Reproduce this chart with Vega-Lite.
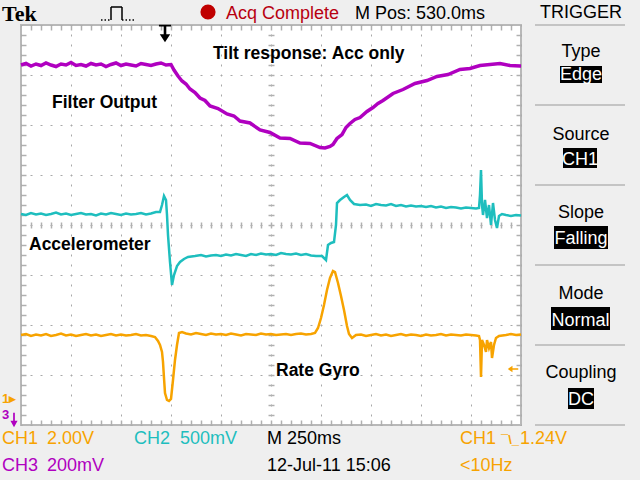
{
  "$schema": "https://vega.github.io/schema/vega-lite/v6.json",
  "width": 500,
  "height": 400,
  "autosize": {"type": "none"},
  "padding": {"left": 21, "top": 25, "right": 119, "bottom": 55},
  "background": "#efefef",
  "config": {
    "view": {"fill": "white", "stroke": "#b8b8b8", "strokeWidth": 2},
    "text": {"font": "Liberation Sans"},
    "axis": {"labels": false, "domain": false, "title": null, "tickColor": "#b0b0b0", "tickWidth": 1.5, "gridColor": "#a8a8a8"}
  },
  "resolve": {"axis": {"x": "independent", "y": "independent"}},
  "datasets": {
    "ch3": [
      {"t":0,"v":3.20},{"t":0.1,"v":3.23},{"t":0.2,"v":3.18},{"t":0.3,"v":3.22},{"t":0.4,"v":3.19},{"t":0.5,"v":3.24},{"t":0.6,"v":3.20},{"t":0.7,"v":3.17},{"t":0.8,"v":3.22},{"t":0.9,"v":3.20},
      {"t":1.0,"v":3.25},{"t":1.1,"v":3.19},{"t":1.2,"v":3.21},{"t":1.3,"v":3.18},{"t":1.4,"v":3.23},{"t":1.5,"v":3.20},{"t":1.6,"v":3.22},{"t":1.7,"v":3.17},{"t":1.8,"v":3.21},{"t":1.9,"v":3.24},
      {"t":2.0,"v":3.19},{"t":2.1,"v":3.22},{"t":2.2,"v":3.20},{"t":2.3,"v":3.18},{"t":2.4,"v":3.23},{"t":2.5,"v":3.21},{"t":2.6,"v":3.19},{"t":2.7,"v":3.22},{"t":2.8,"v":3.24},{"t":2.9,"v":3.20},{"t":3.0,"v":3.21},
      {"t":3.06,"v":3.10},{"t":3.14,"v":2.98},{"t":3.22,"v":2.88},{"t":3.30,"v":2.82},{"t":3.38,"v":2.72},{"t":3.48,"v":2.65},{"t":3.58,"v":2.54},{"t":3.68,"v":2.49},{"t":3.78,"v":2.38},
      {"t":3.94,"v":2.33},{"t":4.12,"v":2.22},{"t":4.26,"v":2.18},{"t":4.38,"v":2.08},{"t":4.58,"v":2.04},{"t":4.78,"v":1.90},{"t":4.98,"v":1.85},{"t":5.18,"v":1.74},{"t":5.38,"v":1.73},
      {"t":5.58,"v":1.64},{"t":5.78,"v":1.63},{"t":5.98,"v":1.55},{"t":6.08,"v":1.54},{"t":6.18,"v":1.57},{"t":6.24,"v":1.61},{"t":6.32,"v":1.73},{"t":6.42,"v":1.81},{"t":6.50,"v":1.95},
      {"t":6.58,"v":2.03},{"t":6.68,"v":2.11},{"t":6.78,"v":2.15},{"t":6.92,"v":2.27},{"t":7.04,"v":2.35},{"t":7.14,"v":2.43},{"t":7.24,"v":2.49},{"t":7.44,"v":2.63},{"t":7.64,"v":2.71},
      {"t":7.88,"v":2.83},{"t":8.12,"v":2.89},{"t":8.32,"v":2.97},{"t":8.54,"v":3.01},{"t":8.78,"v":3.11},{"t":8.98,"v":3.13},{"t":9.18,"v":3.19},{"t":9.38,"v":3.21},{"t":9.58,"v":3.23},
      {"t":9.78,"v":3.19},{"t":9.98,"v":3.18},{"t":10,"v":3.18}
    ],
    "ch2": [
      {"t":0,"v":0.22},{"t":0.1,"v":0.20},{"t":0.2,"v":0.24},{"t":0.3,"v":0.21},{"t":0.4,"v":0.23},{"t":0.5,"v":0.20},{"t":0.6,"v":0.22},{"t":0.7,"v":0.25},{"t":0.8,"v":0.21},{"t":0.9,"v":0.23},
      {"t":1.0,"v":0.20},{"t":1.1,"v":0.22},{"t":1.2,"v":0.24},{"t":1.3,"v":0.21},{"t":1.4,"v":0.22},{"t":1.5,"v":0.19},{"t":1.6,"v":0.23},{"t":1.7,"v":0.21},{"t":1.8,"v":0.24},{"t":1.9,"v":0.22},
      {"t":2.0,"v":0.20},{"t":2.1,"v":0.23},{"t":2.2,"v":0.21},{"t":2.3,"v":0.22},{"t":2.4,"v":0.24},{"t":2.5,"v":0.21},{"t":2.6,"v":0.23},{"t":2.7,"v":0.26},
      {"t":2.78,"v":0.26},{"t":2.82,"v":0.40},{"t":2.86,"v":0.58},{"t":2.90,"v":0.50},{"t":2.92,"v":0.20},{"t":2.94,"v":-0.20},{"t":2.98,"v":-0.74},{"t":3.02,"v":-1.20},{"t":3.06,"v":-1.00},
      {"t":3.12,"v":-0.82},{"t":3.18,"v":-0.74},{"t":3.26,"v":-0.68},{"t":3.34,"v":-0.64},{"t":3.48,"v":-0.62},{"t":3.6,"v":-0.60},{"t":3.7,"v":-0.63},{"t":3.8,"v":-0.61},{"t":3.9,"v":-0.60},
      {"t":4.0,"v":-0.62},{"t":4.1,"v":-0.59},{"t":4.2,"v":-0.61},{"t":4.3,"v":-0.58},{"t":4.4,"v":-0.60},{"t":4.5,"v":-0.62},{"t":4.6,"v":-0.58},{"t":4.7,"v":-0.60},{"t":4.8,"v":-0.57},{"t":4.9,"v":-0.59},
      {"t":5.0,"v":-0.58},{"t":5.1,"v":-0.60},{"t":5.2,"v":-0.56},{"t":5.3,"v":-0.58},{"t":5.4,"v":-0.59},{"t":5.5,"v":-0.57},{"t":5.6,"v":-0.60},{"t":5.7,"v":-0.58},{"t":5.8,"v":-0.61},{"t":5.9,"v":-0.62},
      {"t":6.02,"v":-0.62},{"t":6.10,"v":-0.70},{"t":6.14,"v":-0.40},{"t":6.20,"v":-0.36},{"t":6.26,"v":-0.34},{"t":6.30,"v":0.00},{"t":6.32,"v":0.44},{"t":6.38,"v":0.50},{"t":6.46,"v":0.56},
      {"t":6.52,"v":0.60},{"t":6.58,"v":0.50},{"t":6.66,"v":0.42},{"t":6.78,"v":0.40},{"t":6.9,"v":0.41},{"t":7.0,"v":0.38},{"t":7.1,"v":0.42},{"t":7.2,"v":0.40},{"t":7.3,"v":0.39},{"t":7.4,"v":0.42},
      {"t":7.5,"v":0.38},{"t":7.6,"v":0.40},{"t":7.7,"v":0.37},{"t":7.8,"v":0.39},{"t":7.9,"v":0.37},{"t":8.0,"v":0.38},{"t":8.1,"v":0.36},{"t":8.2,"v":0.38},{"t":8.3,"v":0.35},{"t":8.4,"v":0.37},
      {"t":8.5,"v":0.34},{"t":8.6,"v":0.36},{"t":8.7,"v":0.35},{"t":8.8,"v":0.33},{"t":8.9,"v":0.35},{"t":9.0,"v":0.34},{"t":9.1,"v":0.33},{"t":9.16,"v":0.34},{"t":9.18,"v":0.60},{"t":9.20,"v":1.10},
      {"t":9.22,"v":0.40},{"t":9.24,"v":0.20},{"t":9.28,"v":0.50},{"t":9.32,"v":0.14},{"t":9.36,"v":0.40},{"t":9.40,"v":0.00},{"t":9.44,"v":0.44},{"t":9.48,"v":0.10},{"t":9.52,"v":-0.06},
      {"t":9.56,"v":0.18},{"t":9.62,"v":0.22},{"t":9.7,"v":0.20},{"t":9.8,"v":0.18},{"t":9.9,"v":0.20},{"t":10,"v":0.19}
    ],
    "ch1": [
      {"t":0,"v":-2.20},{"t":0.1,"v":-2.18},{"t":0.2,"v":-2.22},{"t":0.3,"v":-2.19},{"t":0.4,"v":-2.21},{"t":0.5,"v":-2.18},{"t":0.6,"v":-2.22},{"t":0.7,"v":-2.20},{"t":0.8,"v":-2.17},{"t":0.9,"v":-2.21},
      {"t":1.0,"v":-2.19},{"t":1.1,"v":-2.22},{"t":1.2,"v":-2.20},{"t":1.3,"v":-2.18},{"t":1.4,"v":-2.21},{"t":1.5,"v":-2.19},{"t":1.6,"v":-2.22},{"t":1.7,"v":-2.20},{"t":1.8,"v":-2.18},{"t":1.9,"v":-2.21},
      {"t":2.0,"v":-2.19},{"t":2.1,"v":-2.21},{"t":2.2,"v":-2.20},{"t":2.3,"v":-2.18},{"t":2.4,"v":-2.21},{"t":2.5,"v":-2.20},{"t":2.6,"v":-2.22},
      {"t":2.68,"v":-2.24},{"t":2.74,"v":-2.32},{"t":2.78,"v":-2.40},{"t":2.82,"v":-2.54},{"t":2.84,"v":-2.74},{"t":2.86,"v":-3.06},{"t":2.88,"v":-3.36},{"t":2.92,"v":-3.50},{"t":2.96,"v":-3.52},
      {"t":3.00,"v":-3.48},{"t":3.04,"v":-3.10},{"t":3.08,"v":-2.70},{"t":3.12,"v":-2.40},{"t":3.16,"v":-2.16},{"t":3.22,"v":-2.14},
      {"t":3.3,"v":-2.17},{"t":3.4,"v":-2.19},{"t":3.5,"v":-2.16},{"t":3.6,"v":-2.18},{"t":3.7,"v":-2.20},{"t":3.8,"v":-2.17},{"t":3.9,"v":-2.19},{"t":4.0,"v":-2.18},{"t":4.1,"v":-2.20},{"t":4.2,"v":-2.17},
      {"t":4.3,"v":-2.19},{"t":4.4,"v":-2.21},{"t":4.5,"v":-2.18},{"t":4.6,"v":-2.19},{"t":4.7,"v":-2.20},{"t":4.8,"v":-2.17},{"t":4.9,"v":-2.19},{"t":5.0,"v":-2.18},{"t":5.1,"v":-2.20},{"t":5.2,"v":-2.19},
      {"t":5.3,"v":-2.18},{"t":5.4,"v":-2.20},{"t":5.5,"v":-2.18},{"t":5.6,"v":-2.17},{"t":5.7,"v":-2.19},{"t":5.8,"v":-2.18},
      {"t":5.88,"v":-2.16},{"t":5.94,"v":-2.06},{"t":6.00,"v":-1.86},{"t":6.06,"v":-1.60},{"t":6.12,"v":-1.30},{"t":6.18,"v":-1.06},{"t":6.24,"v":-0.92},{"t":6.28,"v":-0.94},{"t":6.34,"v":-1.16},
      {"t":6.40,"v":-1.42},{"t":6.46,"v":-1.70},{"t":6.52,"v":-2.02},{"t":6.56,"v":-2.18},{"t":6.62,"v":-2.26},{"t":6.70,"v":-2.20},
      {"t":6.8,"v":-2.19},{"t":6.9,"v":-2.22},{"t":7.0,"v":-2.20},{"t":7.1,"v":-2.18},{"t":7.2,"v":-2.21},{"t":7.3,"v":-2.19},{"t":7.4,"v":-2.22},{"t":7.5,"v":-2.20},{"t":7.6,"v":-2.18},{"t":7.7,"v":-2.21},
      {"t":7.8,"v":-2.19},{"t":7.9,"v":-2.20},{"t":8.0,"v":-2.22},{"t":8.1,"v":-2.19},{"t":8.2,"v":-2.21},{"t":8.3,"v":-2.20},{"t":8.4,"v":-2.18},{"t":8.5,"v":-2.21},{"t":8.6,"v":-2.19},{"t":8.7,"v":-2.20},
      {"t":8.8,"v":-2.21},{"t":8.9,"v":-2.19},{"t":9.0,"v":-2.20},{"t":9.1,"v":-2.21},
      {"t":9.16,"v":-2.22},{"t":9.18,"v":-2.30},{"t":9.20,"v":-3.04},{"t":9.22,"v":-2.30},{"t":9.26,"v":-2.40},{"t":9.30,"v":-2.54},{"t":9.32,"v":-2.30},{"t":9.36,"v":-2.46},{"t":9.40,"v":-2.34},
      {"t":9.42,"v":-2.66},{"t":9.46,"v":-2.40},{"t":9.50,"v":-2.26},{"t":9.56,"v":-2.22},{"t":9.7,"v":-2.20},{"t":9.8,"v":-2.18},{"t":9.9,"v":-2.20},{"t":10,"v":-2.19}
    ]
  },
  "layer": [
    {
      "data": {"name": "ch3"},
      "mark": {"type": "line", "color": "#b000c0", "strokeWidth": 3.5},
      "encoding": {
        "x": {"field": "t", "type": "quantitative", "scale": {"domain": [0, 10], "nice": false, "zero": false},
          "axis": {"orient": "bottom", "values": [0,1,2,3,4,5,6,7,8,9,10], "grid": true, "gridDash": [2, 8], "gridDashOffset": 1, "ticks": false}},
        "y": {"field": "v", "type": "quantitative", "scale": {"domain": [-4, 4], "nice": false, "zero": false},
          "axis": {"orient": "left", "values": [-4,-3,-2,-1,0,1,2,3,4], "grid": true, "gridDash": [2, 8], "gridDashOffset": 1, "ticks": false}}
      }
    },
    {
      "data": {"name": "ch2"},
      "mark": {"type": "line", "color": "#1ebebe", "strokeWidth": 2.5},
      "encoding": {
        "x": {"field": "t", "type": "quantitative", "scale": {"domain": [0, 10], "nice": false, "zero": false},
          "axis": {"orient": "bottom", "grid": false, "tickSize": -5, "values": [0.2,0.4,0.6,0.8,1,1.2,1.4,1.6,1.8,2,2.2,2.4,2.6,2.8,3,3.2,3.4,3.6,3.8,4,4.2,4.4,4.6,4.8,5,5.2,5.4,5.6,5.8,6,6.2,6.4,6.6,6.8,7,7.2,7.4,7.6,7.8,8,8.2,8.4,8.6,8.8,9,9.2,9.4,9.6,9.8]}},
        "y": {"field": "v", "type": "quantitative", "scale": {"domain": [-4, 4], "nice": false, "zero": false},
          "axis": {"orient": "left", "grid": false, "tickSize": -5, "values": [-3.8,-3.6,-3.4,-3.2,-3,-2.8,-2.6,-2.4,-2.2,-2,-1.8,-1.6,-1.4,-1.2,-1,-0.8,-0.6,-0.4,-0.2,0,0.2,0.4,0.6,0.8,1,1.2,1.4,1.6,1.8,2,2.2,2.4,2.6,2.8,3,3.2,3.4,3.6,3.8]}}
      }
    },
    {
      "data": {"name": "ch1"},
      "mark": {"type": "line", "color": "#f7a300", "strokeWidth": 2.5},
      "encoding": {
        "x": {"field": "t", "type": "quantitative", "scale": {"domain": [0, 10], "nice": false, "zero": false},
          "axis": {"orient": "top", "grid": false, "tickSize": -5, "values": [0.2,0.4,0.6,0.8,1,1.2,1.4,1.6,1.8,2,2.2,2.4,2.6,2.8,3,3.2,3.4,3.6,3.8,4,4.2,4.4,4.6,4.8,5,5.2,5.4,5.6,5.8,6,6.2,6.4,6.6,6.8,7,7.2,7.4,7.6,7.8,8,8.2,8.4,8.6,8.8,9,9.2,9.4,9.6,9.8]}},
        "y": {"field": "v", "type": "quantitative", "scale": {"domain": [-4, 4], "nice": false, "zero": false},
          "axis": {"orient": "right", "grid": false, "tickSize": -5, "values": [-3.8,-3.6,-3.4,-3.2,-3,-2.8,-2.6,-2.4,-2.2,-2,-1.8,-1.6,-1.4,-1.2,-1,-0.8,-0.6,-0.4,-0.2,0,0.2,0.4,0.6,0.8,1,1.2,1.4,1.6,1.8,2,2.2,2.4,2.6,2.8,3,3.2,3.4,3.6,3.8]}}
      }
    },
    {
      "data": {"values": [
        {"t": 3.84, "v": 3.32, "label": "Tilt response: Acc only"},
        {"t": 0.62, "v": 2.35, "label": "Filter Output"},
        {"t": 0.16, "v": -0.5, "label": "Accelerometer"},
        {"t": 5.1, "v": -3.02, "label": "Rate Gyro"}
      ]},
      "mark": {"type": "text", "fontSize": 17.5, "fontWeight": "bold", "align": "left", "baseline": "alphabetic", "color": "#000000"},
      "encoding": {
        "x": {"field": "t", "type": "quantitative", "scale": {"domain": [0, 10], "nice": false, "zero": false},
          "axis": {"orient": "bottom", "offset": -203, "grid": false, "tickSize": 6, "values": [0.2,0.4,0.6,0.8,1,1.2,1.4,1.6,1.8,2,2.2,2.4,2.6,2.8,3,3.2,3.4,3.6,3.8,4,4.2,4.4,4.6,4.8,5,5.2,5.4,5.6,5.8,6,6.2,6.4,6.6,6.8,7,7.2,7.4,7.6,7.8,8,8.2,8.4,8.6,8.8,9,9.2,9.4,9.6,9.8]}},
        "y": {"field": "v", "type": "quantitative", "scale": {"domain": [-4, 4], "nice": false, "zero": false},
          "axis": {"orient": "left", "offset": -253, "grid": false, "tickSize": 6, "values": [-3.8,-3.6,-3.4,-3.2,-3,-2.8,-2.6,-2.4,-2.2,-2,-1.8,-1.6,-1.4,-1.2,-1,-0.8,-0.6,-0.4,-0.2,0,0.2,0.4,0.6,0.8,1,1.2,1.4,1.6,1.8,2,2.2,2.4,2.6,2.8,3,3.2,3.4,3.6,3.8]}},
        "text": {"field": "label"}
      }
    },
    {
      "data": {"values": [
        {"t": 4.10, "v": 4.13, "label": "Acq Complete", "ch": "acq"},
        {"t": 6.68, "v": 4.13, "label": "M Pos: 530.0ms", "ch": "info"},
        {"t": -0.38, "v": -4.37, "label": "CH1", "ch": "CH1"},
        {"t": 0.52, "v": -4.37, "label": "2.00V", "ch": "CH1"},
        {"t": 2.26, "v": -4.37, "label": "CH2", "ch": "CH2"},
        {"t": 3.18, "v": -4.37, "label": "500mV", "ch": "CH2"},
        {"t": 4.92, "v": -4.37, "label": "M 250ms", "ch": "info"},
        {"t": 8.78, "v": -4.37, "label": "CH1", "ch": "CH1"},
        {"t": 9.98, "v": -4.37, "label": "1.24V", "ch": "CH1"},
        {"t": -0.38, "v": -4.91, "label": "CH3", "ch": "CH3"},
        {"t": 0.52, "v": -4.91, "label": "200mV", "ch": "CH3"},
        {"t": 4.92, "v": -4.91, "label": "12-Jul-11 15:06", "ch": "info"},
        {"t": 8.78, "v": -4.91, "label": "<10Hz", "ch": "CH1"}
      ]},
      "mark": {"type": "text", "fontSize": 18, "align": "left", "baseline": "alphabetic"},
      "encoding": {
        "x": {"field": "t", "type": "quantitative", "scale": {"domain": [0, 10], "nice": false, "zero": false}, "axis": null},
        "y": {"field": "v", "type": "quantitative", "scale": {"domain": [-4, 4], "nice": false, "zero": false}, "axis": null},
        "text": {"field": "label"},
        "color": {"field": "ch", "type": "nominal", "legend": null,
          "scale": {"domain": ["CH1", "CH2", "CH3", "info", "acq"], "range": ["#f7a300", "#1ebebe", "#b000c0", "#000000", "#b80010"]}}
      }
    },
    {
      "data": {"values": [
        {"t": 9.60, "v": -4.37, "label": "¯\\_", "ch": "CH1"},
        {"t": -0.38, "v": -3.55, "label": "1▸", "ch": "CH1"},
        {"t": -0.38, "v": -3.88, "label": "3", "ch": "CH3"}
      ]},
      "mark": {"type": "text", "fontSize": 13, "fontWeight": "bold", "align": "left", "baseline": "alphabetic"},
      "encoding": {
        "x": {"field": "t", "type": "quantitative", "scale": {"domain": [0, 10], "nice": false, "zero": false}, "axis": null},
        "y": {"field": "v", "type": "quantitative", "scale": {"domain": [-4, 4], "nice": false, "zero": false}, "axis": null},
        "text": {"field": "label"},
        "color": {"field": "ch", "type": "nominal", "legend": null,
          "scale": {"domain": ["CH1", "CH2", "CH3", "info", "acq"], "range": ["#f7a300", "#1ebebe", "#b000c0", "#000000", "#b80010"]}}
      }
    },
    {
      "data": {"values": [
        {"t": 2.88, "v": 3.83, "marker": "trigger position", "ch": "info"},
        {"t": -0.14, "v": -3.90, "marker": "CH3 offscreen", "ch": "CH3"},
        {"t": 9.84, "v": -2.88, "marker": "trigger level", "ch": "CH1"}
      ]},
      "mark": {"type": "point", "filled": true, "opacity": 1, "strokeWidth": 0},
      "encoding": {
        "x": {"field": "t", "type": "quantitative", "scale": {"domain": [0, 10], "nice": false, "zero": false}, "axis": null},
        "y": {"field": "v", "type": "quantitative", "scale": {"domain": [-4, 4], "nice": false, "zero": false}, "axis": null},
        "shape": {"field": "marker", "type": "nominal", "legend": null,
          "scale": {"domain": ["trigger position", "CH3 offscreen", "trigger level"],
            "range": ["M -0.7 -1 H 0.7 V -0.8 H 0.15 V 0.1 H 0.6 L 0 1 L -0.6 0.1 H -0.15 V -0.8 H -0.7 Z",
                      "M -0.12 -1 H 0.12 V 0.1 H 0.5 L 0 1 L -0.5 0.1 H -0.12 Z",
                      "M -1 0 L -0.1 -0.6 V -0.12 H 1 V 0.12 H -0.1 V 0.6 Z"]}},
        "size": {"field": "marker", "type": "nominal", "legend": null,
          "scale": {"domain": ["trigger position", "CH3 offscreen", "trigger level"], "range": [300, 110, 420]}},
        "color": {"field": "ch", "type": "nominal", "legend": null,
          "scale": {"domain": ["CH1", "CH2", "CH3", "info", "acq"], "range": ["#f7a300", "#1ebebe", "#b000c0", "#000000", "#b80010"]}}
      }
    },
    {
      "data": {"values": [
        {"t": -0.38, "v": 4.08, "label": "Tek"}
      ]},
      "mark": {"type": "text", "fontSize": 22, "font": "Liberation Serif", "fontWeight": "bold", "align": "left", "baseline": "alphabetic", "color": "#000000"},
      "encoding": {
        "x": {"field": "t", "type": "quantitative", "scale": {"domain": [0, 10], "nice": false, "zero": false}, "axis": null},
        "y": {"field": "v", "type": "quantitative", "scale": {"domain": [-4, 4], "nice": false, "zero": false}, "axis": null},
        "text": {"field": "label"}
      }
    },
    {
      "data": {"values": [
        {"t": 3.74, "v": 4.26}
      ]},
      "mark": {"type": "point", "shape": "circle", "filled": true, "size": 230, "color": "#c00000", "opacity": 1},
      "encoding": {
        "x": {"field": "t", "type": "quantitative", "scale": {"domain": [0, 10], "nice": false, "zero": false}, "axis": null},
        "y": {"field": "v", "type": "quantitative", "scale": {"domain": [-4, 4], "nice": false, "zero": false}, "axis": null}
      }
    },
    {
      "data": {"values": [
        {"t": 1.60, "v": 4.10, "part": "a"},
        {"t": 1.80, "v": 4.10, "part": "a"},
        {"t": 1.80, "v": 4.10, "part": "b"},
        {"t": 1.80, "v": 4.36, "part": "b"},
        {"t": 2.02, "v": 4.36, "part": "b"},
        {"t": 2.02, "v": 4.10, "part": "b"},
        {"t": 2.02, "v": 4.10, "part": "c"},
        {"t": 2.26, "v": 4.10, "part": "c"}
      ]},
      "mark": {"type": "line", "color": "#000000", "strokeWidth": 1.5},
      "encoding": {
        "x": {"field": "t", "type": "quantitative", "scale": {"domain": [0, 10], "nice": false, "zero": false}, "axis": null},
        "y": {"field": "v", "type": "quantitative", "scale": {"domain": [-4, 4], "nice": false, "zero": false}, "axis": null},
        "detail": {"field": "part", "type": "nominal"},
        "strokeDash": {"field": "part", "type": "nominal", "legend": null,
          "scale": {"domain": ["a", "b", "c"], "range": [[1.5, 2], [1, 0], [1.5, 2]]}}
      }
    },
    {
      "data": {"values": [
        {"v": 4.0}, {"v": 2.4}, {"v": 0.8}, {"v": -0.8}, {"v": -2.4}, {"v": -4.0}
      ]},
      "mark": {"type": "rule", "color": "#c4c4c4", "strokeWidth": 2},
      "encoding": {
        "x": {"datum": 10.28, "type": "quantitative", "scale": {"domain": [0, 10], "nice": false, "zero": false}, "axis": null},
        "x2": {"datum": 12.08},
        "y": {"field": "v", "type": "quantitative", "scale": {"domain": [-4, 4], "nice": false, "zero": false}, "axis": null}
      }
    },
    {
      "data": {"values": [
        {"t": 10.78, "t2": 11.62, "v": 3.18, "v2": 2.84},
        {"t": 10.84, "t2": 11.52, "v": 1.54, "v2": 1.14},
        {"t": 10.66, "t2": 11.74, "v": -0.02, "v2": -0.48},
        {"t": 10.60, "t2": 11.78, "v": -1.64, "v2": -2.10},
        {"t": 10.94, "t2": 11.46, "v": -3.26, "v2": -3.68}
      ]},
      "mark": {"type": "rect", "color": "#000000"},
      "encoding": {
        "x": {"field": "t", "type": "quantitative", "scale": {"domain": [0, 10], "nice": false, "zero": false}, "axis": null},
        "x2": {"field": "t2"},
        "y": {"field": "v", "type": "quantitative", "scale": {"domain": [-4, 4], "nice": false, "zero": false}, "axis": null},
        "y2": {"field": "v2"}
      }
    },
    {
      "data": {"values": [
        {"t": 11.2, "v": 4.14, "label": "TRIGGER", "ch": "dark"},
        {"t": 11.2, "v": 3.36, "label": "Type", "ch": "dark"},
        {"t": 11.2, "v": 2.90, "label": "Edge", "ch": "box"},
        {"t": 11.2, "v": 1.70, "label": "Source", "ch": "dark"},
        {"t": 11.18, "v": 1.20, "label": "CH1", "ch": "box"},
        {"t": 11.2, "v": 0.14, "label": "Slope", "ch": "dark"},
        {"t": 11.2, "v": -0.38, "label": "Falling", "ch": "box"},
        {"t": 11.2, "v": -1.48, "label": "Mode", "ch": "dark"},
        {"t": 11.19, "v": -2.02, "label": "Normal", "ch": "box"},
        {"t": 11.2, "v": -3.06, "label": "Coupling", "ch": "dark"},
        {"t": 11.2, "v": -3.60, "label": "DC", "ch": "box"}
      ]},
      "mark": {"type": "text", "fontSize": 18, "align": "center", "baseline": "alphabetic"},
      "encoding": {
        "x": {"field": "t", "type": "quantitative", "scale": {"domain": [0, 10], "nice": false, "zero": false}, "axis": null},
        "y": {"field": "v", "type": "quantitative", "scale": {"domain": [-4, 4], "nice": false, "zero": false}, "axis": null},
        "text": {"field": "label"},
        "fill": {"field": "ch", "type": "nominal", "legend": null,
          "scale": {"domain": ["dark", "box"], "range": ["#000000", "#ffffff"]}}
      }
    }
  ]
}
